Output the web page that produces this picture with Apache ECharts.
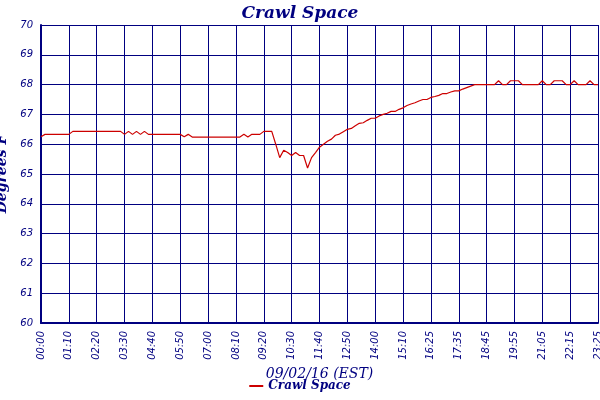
<!DOCTYPE html>
<html><head><meta charset="utf-8">
<script src="https://cdn.jsdelivr.net/npm/echarts@6/dist/echarts.min.js"></script>
<style>html,body{margin:0;padding:0;background:#fff}#c{width:600px;height:400px}</style>
</head><body><div id="c"></div>
<script>
const tickLabels = ["00:00","01:10","02:20","03:30","04:40","05:50","07:00","08:10","09:20","10:30","11:40","12:50","14:00","15:10","16:25","17:35","18:45","19:55","21:05","22:15","23:25"];
const temps = [
66.25,66.33,66.33,66.33,66.33,66.33,66.33,66.33,66.43,66.43,
66.43,66.43,66.43,66.43,66.43,66.43,66.43,66.43,66.43,66.43,
66.43,66.33,66.43,66.33,66.43,66.33,66.43,66.33,66.33,66.33,
66.33,66.33,66.33,66.33,66.33,66.33,66.25,66.33,66.24,66.24,
66.24,66.24,66.24,66.24,66.24,66.24,66.24,66.24,66.24,66.24,
66.24,66.33,66.24,66.33,66.33,66.33,66.43,66.43,66.43,66.0,
65.55,65.8,65.72,65.62,65.72,65.62,65.62,65.2,65.55,65.72,
65.9,66.0,66.1,66.17,66.3,66.34,66.42,66.5,66.53,66.62,
66.7,66.72,66.8,66.87,66.87,66.95,67.0,67.04,67.1,67.1,
67.17,67.22,67.3,67.35,67.39,67.45,67.5,67.5,67.57,67.6,
67.64,67.7,67.7,67.75,67.79,67.79,67.85,67.9,67.95,68.0,
68.0,68.0,68.0,68.0,68.0,68.13,68.0,68.0,68.13,68.13,
68.13,68.0,68.0,68.0,68.0,68.0,68.13,68.0,68.0,68.13,
68.13,68.13,68.0,68.0,68.13,68.0,68.0,68.0,68.13,68.0,68.0
];
const per = 7;
const cats = temps.map((v,i)=> i%per===0 ? tickLabels[i/per] : "p"+i);
const navy = "#000080";
const chart = echarts.init(document.getElementById('c'));
chart.setOption({
  animation:false,
  title:{text:"Crawl Space",left:"center",top:0,textStyle:{color:navy,fontStyle:"italic",fontWeight:"bold",fontSize:17,fontFamily:"DejaVu Serif"}},
  grid:{left:41,right:2,top:25,bottom:77,containLabel:false,outerBoundsMode:"none"},
  legend:{bottom:3,left:"center",itemWidth:14,itemHeight:2,icon:"rect",
    textStyle:{color:navy,fontStyle:"italic",fontWeight:"bold",fontSize:12,fontFamily:"DejaVu Serif"},data:["Crawl Space"]},
  xAxis:{type:"category",data:cats,boundaryGap:false,name:"09/02/16 (EST)",nameLocation:"middle",nameGap:37,
    nameTextStyle:{color:navy,fontStyle:"italic",fontSize:14,fontFamily:"DejaVu Serif"},
    axisLine:{lineStyle:{color:navy,width:2}},axisTick:{show:false},
    axisLabel:{interval:per-1,rotate:90,color:navy,fontStyle:"italic",fontSize:10,fontFamily:"DejaVu Sans"},
    splitLine:{show:true,interval:per-1,lineStyle:{color:navy,width:1}}},
  yAxis:{type:"value",min:60,max:70,interval:1,name:"Degrees F",nameLocation:"middle",nameGap:28,
    nameTextStyle:{color:navy,fontStyle:"italic",fontWeight:"bold",fontSize:14,fontFamily:"DejaVu Serif"},
    axisLine:{show:true,lineStyle:{color:navy,width:2}},axisTick:{show:false},
    axisLabel:{color:navy,fontStyle:"italic",fontSize:10,fontFamily:"DejaVu Sans"},
    splitLine:{lineStyle:{color:navy,width:1}}},
  series:[{name:"Crawl Space",type:"line",data:temps,showSymbol:false,lineStyle:{color:"#cc0000",width:1.2},itemStyle:{color:"#cc0000"}}]
});
</script></body></html>
